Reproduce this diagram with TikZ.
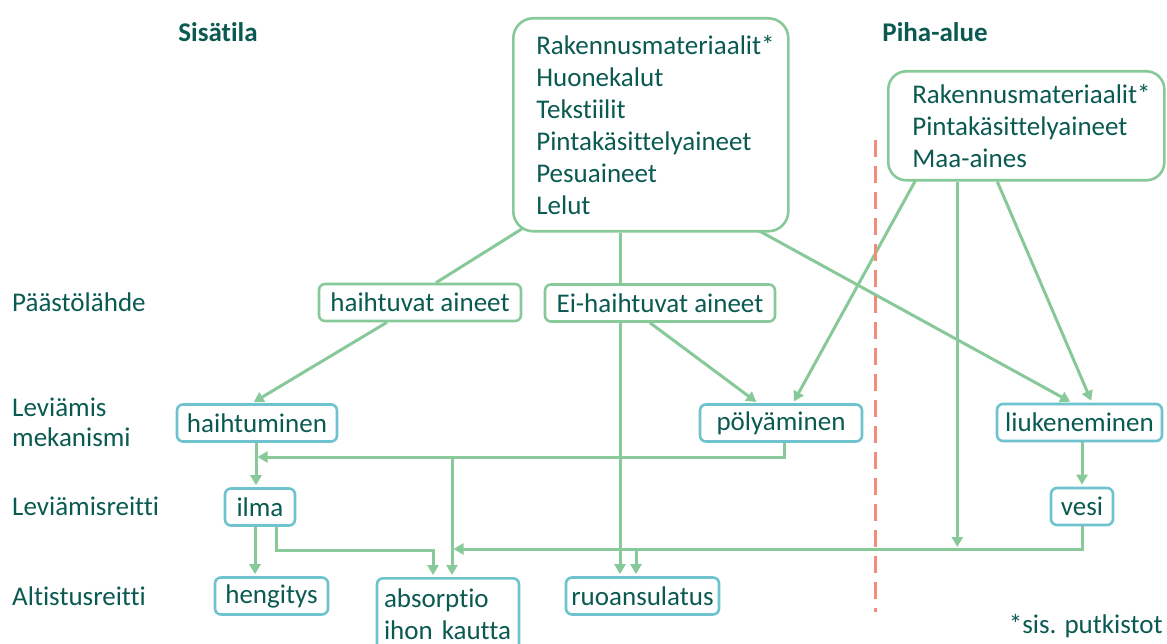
\documentclass[tikz,border=0pt]{standalone}
\usepackage{fontspec}
\setmainfont{Carlito}[Ligatures=NoCommon]
\usepackage{tikz}
\usetikzlibrary{positioning,arrows.meta,calc,backgrounds}
\definecolor{tealtext}{RGB}{10,90,82}
\definecolor{leafgreen}{RGB}{136,201,153}
\definecolor{aquablue}{RGB}{110,195,206}
\definecolor{salmon}{RGB}{240,140,120}
\tikzset{
  greenbox/.style={rectangle,rounded corners=6pt,draw=leafgreen,line width=2.6pt,
    fill=white,text=tealtext,minimum height=37pt,inner sep=0pt},
  bluebox/.style={greenbox,draw=aquablue},
  conn/.style={draw=leafgreen,line width=3pt},
  connarrow/.style={conn,-{Triangle[length=10pt,width=11pt]},shorten >=2pt},
  rowlabel/.style={anchor=west,text=tealtext,align=left,inner sep=0pt},
  heading/.style={text=tealtext,font=\fontsize{27}{32}\selectfont\bfseries,inner sep=0pt},
  divider/.style={draw=salmon,line width=3pt,dash pattern=on 17pt off 9pt}
}

\begin{document}
\begin{tikzpicture}[x=1pt,y=-1pt,font=\fontsize{27}{32}\selectfont]
\useasboundingbox (0,0) rectangle (1167,644);

% sources
\node[greenbox,anchor=north west,rounded corners=20pt,minimum width=275pt,minimum height=213pt,
  text width=229pt,align=left] (indoor) at (512,17)
  {Rakennusmateriaalit*\\Huonekalut\\Tekstiilit\\Pintakäsittelyaineet\\Pesuaineet\\Lelut};
\node[greenbox,anchor=north west,rounded corners=18pt,minimum width=276pt,minimum height=109pt,
  text width=228pt,align=left] (yard) at (887,70)
  {Rakennusmateriaalit*\\Pintakäsittelyaineet\\Maa-aines};

\node[heading] (indoorhead) at (218,32) {Sisätila};
\node[heading] (yardhead) at (935,32) {Piha-alue};

% row labels
\node[rowlabel] (srcrow) at (12,302) {Päästölähde};
\node[rowlabel,font=\fontsize{27}{30}\selectfont] (mechrow) at (12,422) {Leviämis\\mekanismi};
\node[rowlabel] (routerow) at (12,506) {Leviämisreitti};
\node[rowlabel] (exprow) at (12,596) {Altistusreitti};

% boxes
\node[greenbox,minimum width=202pt] (volatile) at (420,302.5) {haihtuvat aineet};
\node[greenbox,minimum width=230pt] (nonvolatile) at (660,303) {Ei-haihtuvat aineet};
\node[bluebox,minimum width=160pt] (evap) at (257,423) {haihtuminen};
\node[bluebox,minimum width=162pt] (dust) at (781,423) {pölyäminen};
\node[bluebox,minimum width=165pt] (dissolve) at (1079.5,422.5) {liukeneminen};
\node[bluebox,minimum width=70pt] (air) at (260,507) {ilma};
\node[bluebox,minimum width=62pt] (water) at (1082,506.5) {vesi};
\node[bluebox,minimum width=113pt] (breath) at (271.5,596) {hengitys};
\node[bluebox,minimum width=153pt] (ingest) at (642.5,596) {ruoansulatus};
\node[bluebox,anchor=north,minimum width=142pt,minimum height=72pt,text width=128pt,align=left]
  (skin) at (448,577) {absorptio\\ihon kautta};

\node[text=tealtext,anchor=east,inner sep=0pt] (footnote) at (1163,626) {*sis. putkistot};

\coordinate (foodline) at ($(nonvolatile.north)+(-40,0)$);
\coordinate (airjoin) at (256,457);
\coordinate (skinjoin) at (452,457);
\coordinate (skinwater) at (452,549);
\coordinate (foodwater) at (636,549);
\coordinate (soildrop) at ($(yard.south)+(-69,0)$);

\begin{scope}[on background layer]
\draw[conn] ($(indoor.south)+(-112.5,-14)$) -- ($(volatile.north)+(16,0)$);
\draw[conn] (indoor.south -| foodline) -- (foodline);
\draw[connarrow] ($(indoor.south)+(100.5,-6)$) -- ($(dissolve.north)+(-7.5,0)$);
\draw[connarrow] (nonvolatile.south -| foodline) -- (ingest.north -| foodline);
\draw[connarrow] ($(nonvolatile.south)+(-10,0)$) -- ($(dust.north)+(-23,0)$);
\draw[connarrow] ($(volatile.south)+(-33,0)$) -- ($(evap.north)+(-5,0)$);
\draw[connarrow] ($(yard.south)+(-101,-19)$) -- ($(dust.north)+(12,0)$);
\draw[connarrow] (soildrop) -- (soildrop |- skinwater);
\draw[connarrow] ($(yard.south)+(-29,0)$) -- ($(dissolve.north)+(12.5,0)$);
\draw[connarrow] (evap.south -| airjoin) -- (air.north -| airjoin);
\draw[connarrow,shorten >=1.5pt] ($(dust.south)+(3,0)$) |- (airjoin);
\draw[connarrow] (skinjoin) -- (skin.north -| skinjoin);
\draw[connarrow] ($(air.south)+(-5,0)$) coordinate (breathline) -- (breathline |- breath.north);
\draw[connarrow] ($(air.south)+(16,0)$) -- ++(0,24) -| ($(skin.north)+(-15,0)$);
\draw[connarrow] (dissolve.south -| water.north) -- (water.north);
\draw[connarrow,shorten >=1.5pt] (water.south) |- (skinwater);
\draw[connarrow] (foodwater) -- (foodwater |- ingest.north);
\end{scope}

\draw[divider] (875,140) -- (875,612);
\end{tikzpicture}
\end{document}
